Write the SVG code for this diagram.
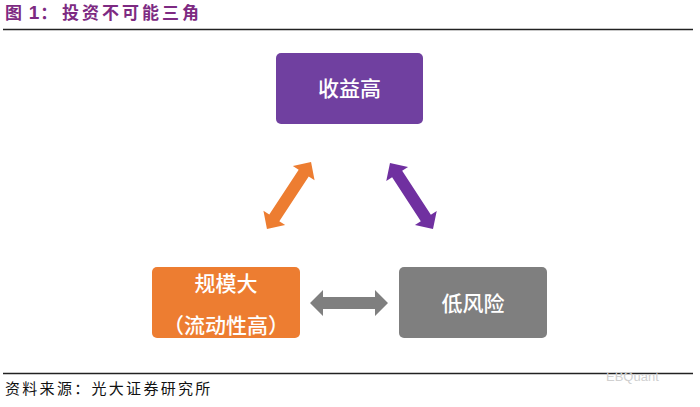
<svg xmlns="http://www.w3.org/2000/svg" width="700" height="407" viewBox="0 0 700 407">
<style>
.node-text{font-family:"Noto Sans CJK SC","Noto Sans",sans-serif;font-size:21px;font-weight:500;fill:#ffffff;text-anchor:middle}
.rule{stroke:#222222;stroke-width:1.5}
</style>
<defs>
<polygon id="dbl" points="-39,0 -26,-13 -26,-6 26,-6 26,-13 39,0 26,13 26,6 -26,6 -26,13"/>
</defs>
<rect width="700" height="407" fill="#ffffff"/>
<g id="title">
<text x="5" y="19" font-family="Liberation Sans,'Noto Sans CJK SC',sans-serif" font-size="17" font-weight="bold" fill="#7D2A82" letter-spacing="1">图 <tspan font-size="19">1</tspan>：<tspan x="62" letter-spacing="3">投资不可能三角</tspan></text>
<line class="rule" x1="3" y1="29.5" x2="693" y2="29.5"/>
</g>
<g id="connectors">
<use href="#dbl" fill="#ED7D31" transform="translate(289,195.5) rotate(-56.7) scale(1.03,1)"/>
<use href="#dbl" fill="#7030A0" transform="translate(411.5,196) rotate(56.9) scale(1.01,1)"/>
<use href="#dbl" fill="#7F7F7F" transform="translate(349,303)"/>
</g>
<g id="node-return">
<rect x="276" y="53" width="147" height="71" rx="5" fill="#7040A0"/>
<text class="node-text" x="349.5" y="96">收益高</text>
</g>
<g id="node-scale">
<rect x="152" y="267" width="148" height="71" rx="5" fill="#ED7D31"/>
<text class="node-text" x="226" y="291">规模大</text>
<text class="node-text" x="226" y="333">（流动性高）</text>
</g>
<g id="node-risk">
<rect x="399" y="267" width="148" height="71" rx="5" fill="#7F7F7F"/>
<text class="node-text" x="473" y="311">低风险</text>
</g>
<g id="footer">
<line class="rule" x1="3" y1="373.5" x2="693" y2="373.5"/>
<text x="5" y="394" font-family="'Noto Sans CJK SC',sans-serif" font-size="15" fill="#111111" letter-spacing="2.3">资料来源：光大证券研究所</text>
<text x="606" y="381" font-family="Liberation Sans,sans-serif" font-size="13" fill="#d0d0d0">EBQuant</text>
</g>
</svg>
